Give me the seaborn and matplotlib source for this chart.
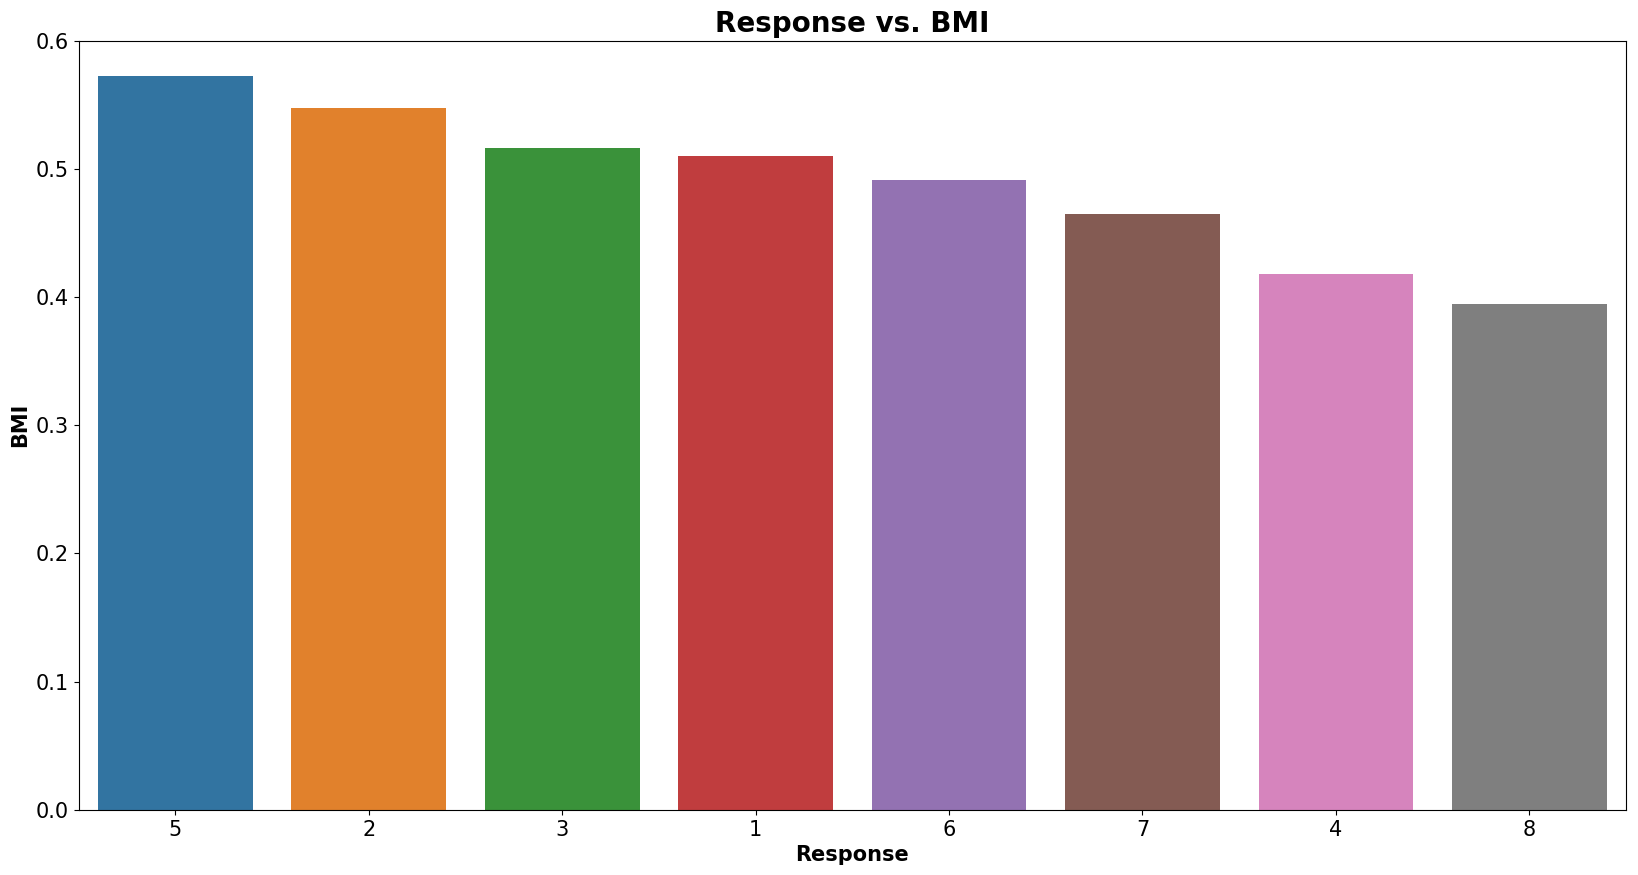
import matplotlib
matplotlib.use("Agg")
import matplotlib.pyplot as plt
import seaborn as sns
import pandas as pd

responses = ["5", "2", "3", "1", "6", "7", "4", "8"]
bmi = [0.5723, 0.5474, 0.5162, 0.5100, 0.4913, 0.4648, 0.4180, 0.3946]

df = pd.DataFrame({"Response": responses, "BMI": bmi})

fig, ax = plt.subplots(figsize=(16.38, 8.75), dpi=100)
sns.barplot(data=df, x="Response", y="BMI", hue="Response", order=responses,
            hue_order=responses, palette="tab10", legend=False, ax=ax)
ax.set_ylim(0, 0.6)
ax.set_title("Response vs. BMI", fontsize=20, fontweight="bold")
ax.set_xlabel("Response", fontsize=15, fontweight="bold")
ax.set_ylabel("BMI", fontsize=15, fontweight="bold")
ax.tick_params(axis="both", labelsize=15)
fig.subplots_adjust(left=0.048, right=0.9927, top=0.9537, bottom=0.0743)
fig.savefig("out.png", dpi=100)
